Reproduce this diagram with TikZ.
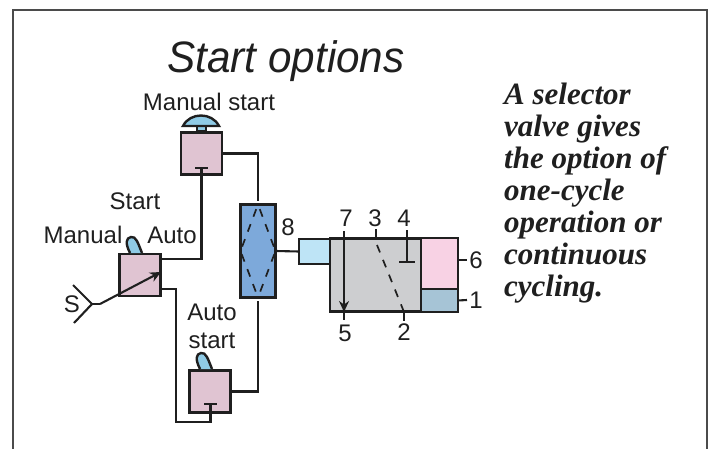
\documentclass[tikz,border=0pt]{standalone}
\usepackage{fontspec}
\setmainfont{Liberation Sans}
\newfontfamily\captionfont{Liberation Serif}
\usetikzlibrary{positioning,arrows.meta}
\tikzset{>={Stealth[length=11pt,width=10pt]}}
\colorlet{penColor}{black!88}
\definecolor{valveColor}{HTML}{E0C4D2}
\definecolor{shuttleColor}{HTML}{7DA9DA}
\definecolor{handColor}{HTML}{8FCBE6}
\definecolor{ctrlColor}{HTML}{BEE4F6}
\definecolor{bodyColor}{HTML}{CDCED0}
\definecolor{pinkColor}{HTML}{F8D2E4}
\definecolor{baseColor}{HTML}{A6C4D6}
\tikzset{
	pipe/.style={penColor, line width=2.1pt},
	dashline/.style={penColor, line width=1.7pt, dash pattern=on 8pt off 8pt, dash phase=11pt},
	part/.style={draw=penColor, line width=2.4pt, inner sep=0pt, outer sep=0pt},
	valvebox/.style={part, fill=valveColor, minimum width=41pt, minimum height=42pt},
	lbl/.style={penColor, font=\fontsize{24}{28}\selectfont, inner sep=0pt},
	lever/.pic={\draw[part, fill=handColor] (11,16) .. controls (7,6) and (5,-1) .. (0,0) .. controls (-5,1) and (-6,6) .. (-1,16);}
}
\begin{document}
\begin{tikzpicture}[x=1pt,y=-1pt]
	\useasboundingbox (0,0) rectangle (709,449);
	\draw[penColor!80, line width=1.4pt] (13,449) -- (13,10) -- (707,10) -- (707,449);
	\node [penColor, font=\fontsize{44}{48}\selectfont\itshape, xscale=.96, inner sep=0pt] (title) at (286,61) {Start options};
	\node [penColor, font=\captionfont\fontsize{31}{32}\selectfont\bfseries\itshape, align=left, anchor=north west, inner sep=0pt] (caption) at (504,83) {A selector\\valve gives\\the option of\\one-cycle\\operation or\\continuous\\cycling.};
	% valves
	\node [valvebox] (manual) at (201.5,153.5) {};
	\node [valvebox] (select) at (140,275) {};
	\node [valvebox] (auto) at (210,391.5) {};
	\node [part, fill=shuttleColor, minimum width=35pt, minimum height=93pt] (shuttle) at (258,251) {};
	% cylinder
	\node [part, fill=bodyColor, minimum width=91pt, minimum height=73pt] (body) at (375.5,275) {};
	\node [part, fill=ctrlColor, minimum width=31pt, minimum height=25pt] (ctrl) at (314.5,251.5) {};
	\node [part, fill=pinkColor, minimum width=37pt, minimum height=51pt] (pink) at (439.5,263.5) {};
	\node [part, fill=baseColor, minimum width=37pt, minimum height=23pt] (base) at (439.5,300.5) {};
	% button and levers
	\draw[part, fill=handColor] (197,131) rectangle (206,125);
	\draw[part, fill=handColor] (183,126) .. controls (190,112) and (212,112) .. (219,126) -- cycle;
	\pic at (131,237) {lever};
	\pic at (201,353) {lever};
	% lines
	\coordinate (manualbar) at (201.5,168);
	\coordinate (autobar) at (210.5,404);
	\draw[pipe] (select.east |- 0,259) -| (manualbar);
	\draw[pipe] ([xshift=-6.5pt]manualbar) -- ([xshift=6.5pt]manualbar);
	\draw[pipe] (manual.east) -| ([yshift=3pt]shuttle.north);
	\draw[pipe] (select.east |- 0,289) -| (176,422) -| (autobar);
	\draw[pipe] ([xshift=-6.5pt]autobar) -- ([xshift=6.5pt]autobar);
	\draw[pipe] (auto.east) -| ([yshift=-3pt]shuttle.south);
	\draw[pipe] (shuttle.east) -- (ctrl.west);
	\draw[dashline] (shuttle.north) -- (shuttle.west) -- (shuttle.south);
	\draw[dashline] (shuttle.north) -- (shuttle.east) -- (shuttle.south);
	% supply
	\node [lbl] (S) at (72,304) {S};
	\coordinate (forkA) at (73,285);
	\coordinate (forkB) at (74,323);
	\coordinate (fork) at (92,304);
	\coordinate (neck) at (100,304);
	\coordinate (tip) at (161,272);
	\draw[pipe] (forkA) -- (fork) -- (forkB);
	\draw[pipe] (fork) -- (neck);
	\draw[->, pipe] (neck) -- (tip);
	% labels
	\node [lbl] (manualstart) at (209,102) {Manual start};
	\node [lbl] (start) at (135,201) {Start};
	\node [lbl] (manuallbl) at (83,235) {Manual};
	\node [lbl] (autolbl) at (172,235) {Auto};
	\node [lbl, align=center] (autostart) at (212,326) {Auto\\start};
	\node [lbl] (lab8) at (288,227) {8};
	\node [lbl] (lab7) at (346,218) {7};
	\node [lbl] (lab3) at (375,218) {3};
	\node [lbl] (lab4) at (404,218) {4};
	\node [lbl] (lab5) at (345,333) {5};
	\node [lbl] (lab2) at (404,332) {2};
	\node [lbl] (lab6) at (476,260) {6};
	\node [lbl] (lab1) at (476,300) {1};
	% ports
	\coordinate (portA) at (344,231);
	\coordinate (portB) at (344,312);
	\coordinate (portC) at (344,320);
	\draw[->, pipe] (portA) -- (portB);
	\draw[pipe] (portB) -- (portC);
	\coordinate (portD) at (376,229);
	\coordinate (portE) at (376,238);
	\coordinate (portF) at (377,245);
	\coordinate (portG) at (404,312);
	\coordinate (portH) at (404,321);
	\draw[pipe] (portD) -- (portE);
	\draw[dashline, dash phase=0pt] (portF) -- (portG);
	\draw[pipe] (portG) -- (portH);
	\coordinate (portI) at (407,230);
	\coordinate (portJ) at (407,262);
	\draw[pipe] (portI) -- (portJ);
	\draw[pipe] ([xshift=-8pt]portJ) -- ([xshift=8pt]portJ);
	\draw[pipe] (pink.east |- lab6) -- ([xshift=-9pt]lab6.center);
	\draw[pipe] (base.east) -- ([xshift=-9pt]lab1.center);
\end{tikzpicture}
\end{document}
